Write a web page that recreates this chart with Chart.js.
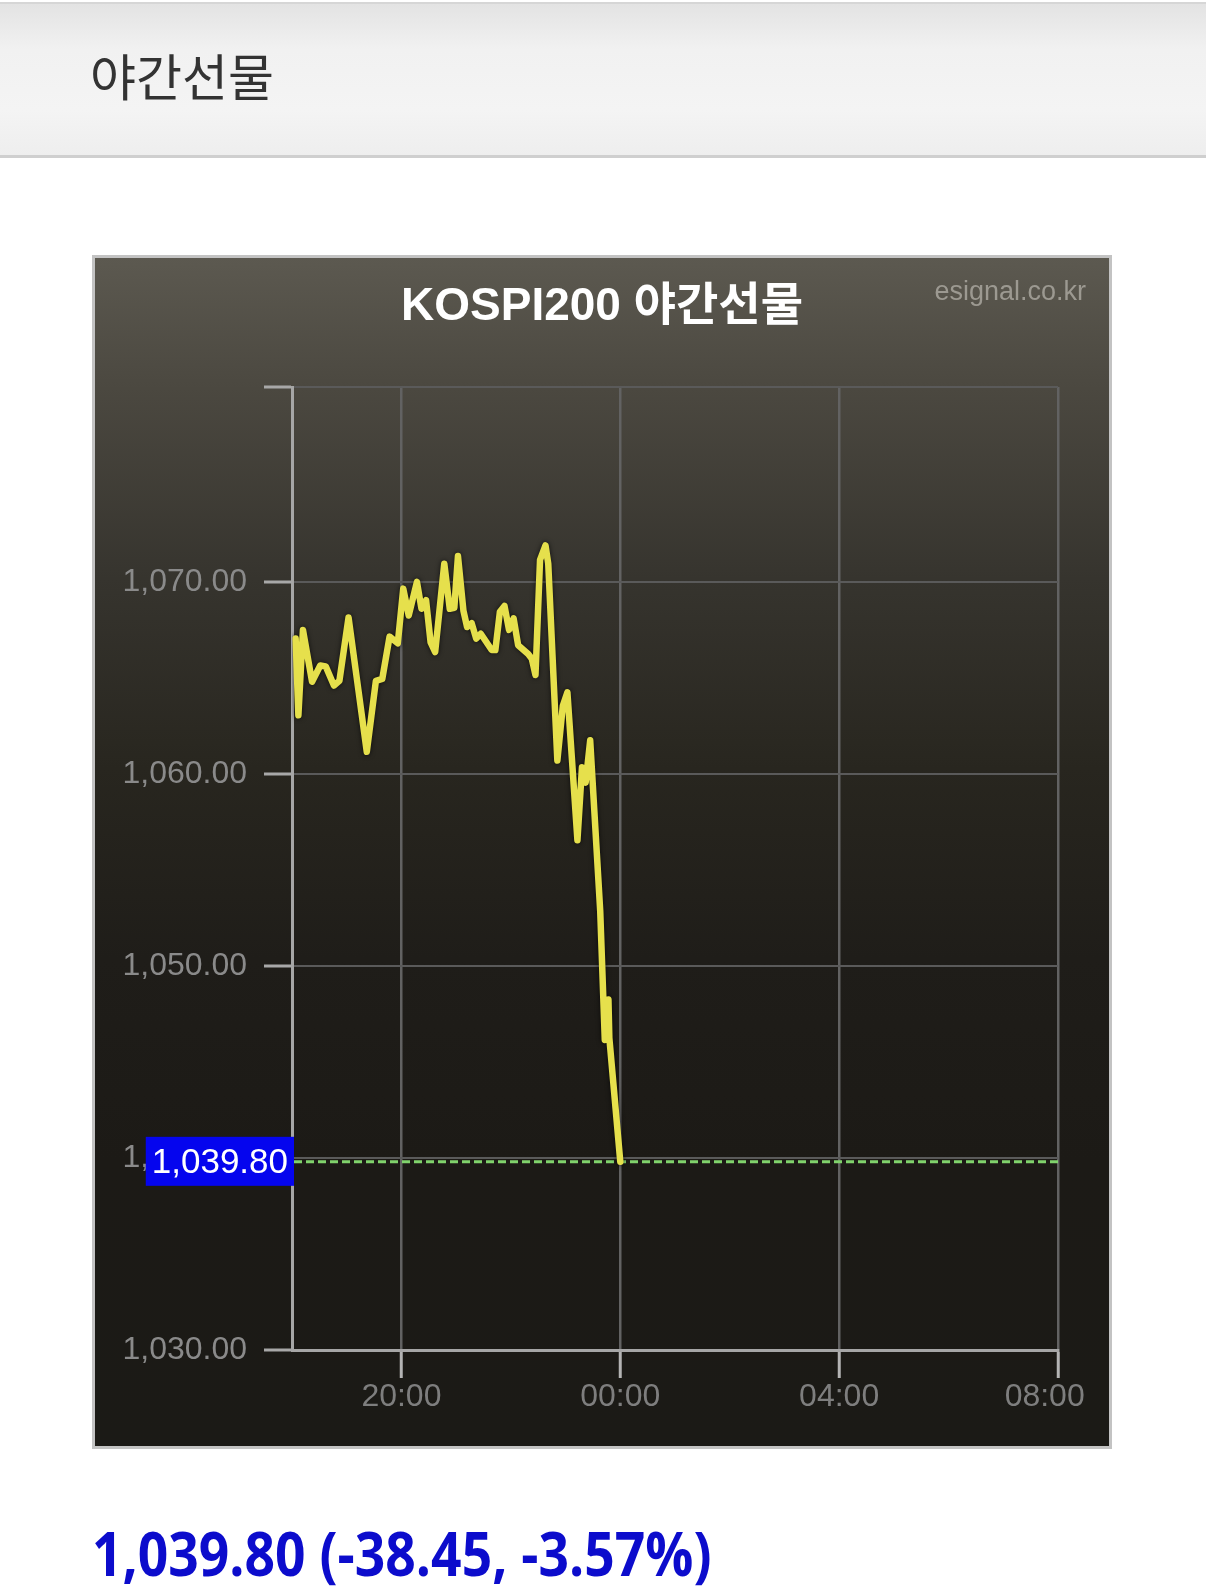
<!DOCTYPE html>
<html lang="ko">
<head>
<meta charset="utf-8">
<script src="https://cdn.jsdelivr.net/npm/chart.js@4.4.1/dist/chart.umd.min.js"></script>
<style>
  html, body { margin: 0; padding: 0; background: #fff; }
  body { width: 1206px; height: 1595px; position: relative; overflow: hidden; }
  #header {
    position: absolute; left: 0; top: 2px; width: 1206px; height: 151px;
    border-top: 2px solid #d6d6d6; border-bottom: 3px solid #cfcfcf;
    background: linear-gradient(to bottom, #e3e3e3 0%, #f1f1f1 30%, #f4f4f4 70%, #eeeeee 100%);
  }
  #header h1 {
    position: absolute; left: 90px; top: 40px; margin: 0;
    font: 400 50px "Noto Sans CJK KR", "Noto Sans", sans-serif; color: #333;
    line-height: 60px;
  }
  #box {
    position: absolute; left: 92px; top: 255px; width: 1020px; height: 1194px;
    box-sizing: border-box; border: 3px solid #c3c3c3;
    background: linear-gradient(to bottom, #5c5950 0%, #4b4840 11%, #36342e 27%, #28261f 43%, #1f1d19 59%, #1c1a16 76%, #1b1a16 100%);
  }
  #title {
    position: absolute; left: 0; width: 100%; top: 18px; text-align: center;
    font: 700 46px "Liberation Sans", "Noto Sans CJK KR", sans-serif; color: #fff;
    line-height: 56px;
  }
  #mark {
    position: absolute; right: 23px; top: 18px;
    font: 400 27px "Liberation Sans", sans-serif; color: #9c9991;
  }
  #chart { position: absolute; left: 0; top: 0; }
  #price {
    position: absolute; left: 92px; top: 1512px; margin: 0;
    font: 700 60px "Open Sans", sans-serif; color: #0c0ccc;
    transform-origin: left center; transform: scaleX(0.89); white-space: nowrap;
  }
</style>
</head>
<body>
<div id="header"><h1>야간선물</h1></div>
<div id="box">
  <canvas id="chart" width="1014" height="1188"></canvas>
  <div id="title">KOSPI200 야간선물</div>
  <div id="mark">esignal.co.kr</div>
</div>
<div id="price">1,039.80 (-38.45, -3.57%)</div>
<script>
// KOSPI200 야간선물, 18:00 ~ 08:00
const times = [
  "18:04", "18:07", "18:12", "18:22", "18:31", "18:37", "18:46", "18:52", "19:02", "19:22",
  "19:32", "19:39", "19:47", "19:56", "20:02", "20:08", "20:17", "20:22", "20:27", "20:32",
  "20:37", "20:47", "20:53", "20:58", "21:02", "21:08", "21:12", "21:17", "21:22", "21:27",
  "21:32", "21:39", "21:43", "21:48", "21:53", "21:58", "22:03", "22:08", "22:19", "22:23",
  "22:27", "22:32", "22:38", "22:41", "22:51", "22:57", "23:02", "23:13", "23:18", "23:22",
  "23:27", "23:38", "23:43", "23:47", "23:48", "00:00"
];
const prices = [
  1067.05, 1063.05, 1067.50, 1064.80, 1065.65, 1065.60, 1064.60, 1064.85, 1068.15, 1061.15,
  1064.85, 1064.95, 1067.15, 1066.80, 1069.65, 1068.25, 1070.00, 1068.60, 1069.05, 1066.85,
  1066.35, 1070.95, 1068.60, 1068.65, 1071.35, 1068.50, 1067.65, 1067.85, 1067.05, 1067.30,
  1066.95, 1066.45, 1066.45, 1068.45, 1068.75, 1067.50, 1068.10, 1066.70, 1066.25, 1066.00,
  1065.15, 1071.15, 1071.90, 1070.95, 1060.70, 1063.55, 1064.25, 1056.55, 1060.35, 1059.55,
  1061.75, 1052.85, 1046.15, 1048.25, 1046.25, 1039.80
];
const xTicks = ["20:00", "00:00", "04:00", "08:00"];
const yTicks = [1030, 1040, 1050, 1060, 1070];
const yMin = 1030;
const yMax = 1080.15;
const lastPrice = 1039.80;

// minutes since 18:00
const toMin = t => {
  const [h, m] = t.split(":").map(Number);
  return ((h - 18 + 24) % 24) * 60 + m;
};
const fmtTime = v => {
  const h = (18 + Math.floor(v / 60)) % 24;
  const m = v % 60;
  return String(h).padStart(2, "0") + ":" + String(m).padStart(2, "0");
};
const fmtNum = v => v.toLocaleString("en-US", { minimumFractionDigits: 2, maximumFractionDigits: 2 });

const points = times.map((t, i) => ({ x: toMin(t), y: prices[i] }));

const lastLine = {
  id: "lastLine",
  beforeDatasetsDraw(chart) {
    const { ctx, chartArea, scales } = chart;
    const y = scales.y.getPixelForValue(lastPrice);
    ctx.save();
    ctx.strokeStyle = "#80d26c";
    ctx.lineWidth = 3;
    ctx.setLineDash([8, 4]);
    ctx.beginPath();
    ctx.moveTo(chartArea.left + 2, y);
    ctx.lineTo(chartArea.right, y);
    ctx.stroke();
    ctx.restore();
  },
  beforeDatasetDraw(chart) {
    chart.ctx.save();
    chart.ctx.shadowColor = "rgba(0,0,0,0.7)";
    chart.ctx.shadowBlur = 5;
  },
  afterDatasetDraw(chart) {
    chart.ctx.restore();
  },
  afterDraw(chart) {
    const { ctx, chartArea, scales } = chart;
    const y = scales.y.getPixelForValue(lastPrice);
    ctx.save();
    ctx.font = "35px 'Liberation Sans'";
    const label = fmtNum(lastPrice);
    const w = ctx.measureText(label).width;
    const right = chartArea.left + 2;
    ctx.fillStyle = "#0505ee";
    ctx.fillRect(right - w - 12, y - 25, w + 12, 49);
    ctx.fillStyle = "#fff";
    ctx.textAlign = "right";
    ctx.textBaseline = "middle";
    ctx.fillText(label, right - 6, y + 2);
    ctx.restore();
  }
};

new Chart(document.getElementById("chart"), {
  type: "line",
  data: {
    datasets: [{
      data: points,
      borderColor: "#e6e04c",
      borderWidth: 6.5,
      pointRadius: 0,
      tension: 0,
      borderJoinStyle: "round",
      borderCapStyle: "round"
    }]
  },
  options: {
    responsive: false,
    animation: false,
    layout: { padding: { top: 129, right: 51, left: 0, bottom: 0 } },
    plugins: { legend: { display: false }, tooltip: { enabled: false } },
    scales: {
      x: {
        type: "linear",
        min: 0,
        max: 840,
        afterBuildTicks: s => { s.ticks = xTicks.map(t => ({ value: toMin(t) })); },
        afterFit: s => { s.height = 96; s.paddingRight = 0; s.paddingLeft = 0; },
        ticks: {
          // the last label sits a little left of its tick
          callback: v => (v === 840 ? fmtTime(v) + "   " : fmtTime(v)),
          color: "#7e7e7e",
          font: { family: "Liberation Sans", size: 32 },
          padding: 0,
          maxRotation: 0,
          autoSkip: false
        },
        grid: { color: "#626262", lineWidth: 2.5, tickColor: "#b4b4b4", tickLength: 28, tickWidth: 3 },
        border: { color: "#a6a6a6", width: 3 }
      },
      y: {
        min: yMin,
        max: yMax,
        afterBuildTicks: s => { s.ticks = yTicks.concat([yMax]).map(v => ({ value: v })); },
        afterFit: s => { s.width = 197; },
        ticks: {
          callback: v => (v === yMax ? "" : fmtNum(v)),
          color: "#8a8a8a",
          font: { family: "Liberation Sans", size: 32 },
          padding: 17
        },
        grid: { color: "#5a5a5a", lineWidth: 2, tickColor: "#a8a8a8", tickLength: 28, tickWidth: 3 },
        border: { color: "#a6a6a6", width: 3 }
      }
    }
  },
  plugins: [lastLine]
});
</script>
</body>
</html>
